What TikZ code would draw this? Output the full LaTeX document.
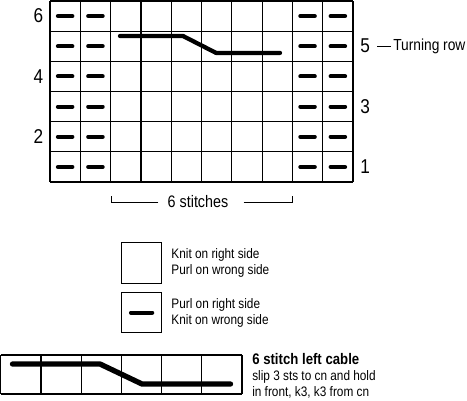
\documentclass[tikz,border=0pt]{standalone}
\usepackage{fontspec}
\setmainfont{Liberation Sans}[FakeStretch=0.86]
\usetikzlibrary{positioning}

\begin{document}
\begin{tikzpicture}[x=0.75pt,y=-0.75pt,
		chartline/.style={line width=0.9pt},
		purl/.style={line width=3pt,line cap=round},
		cable/.style={line width=3.2pt,line cap=round,line join=round},
		rownum/.style={font=\fontsize{15}{15}\selectfont,inner sep=0pt},
		keytext/.style={font=\fontsize{10.3}{12}\selectfont,align=left,anchor=west,inner sep=0pt}]
		\useasboundingbox (0,0) rectangle (467,400);
		
		% Chart grid, 10 stitches by 6 rows
		\begin{scope}[shift={(50,1)},x=22.725pt,y=-22.63pt]
		\foreach \i in {0,...,10} \draw[chartline] (\i,0) -- (\i,6);
		\foreach \j in {0,...,6}  \draw[chartline] (0,\j) -- (10,\j);
		% purl bars on the two edge columns
		\foreach \i in {0,1,8,9}
		\foreach \j in {0,...,5}
		\draw[purl] (\i+0.26,\j+0.5) -- (\i+0.74,\j+0.5);
		% Cable crossing in row 5
		\draw[cable] (2.31,1.16) -- (4.39,1.16) -- (5.48,1.72) -- (7.59,1.72);
		\end{scope}
		
		% Row numbers
		\node[rownum,anchor=east] (r6) at (43.5,16)  {6};
		\node[rownum,anchor=east] (r4) at (43.5,77)  {4};
		\node[rownum,anchor=east] (r2) at (43.5,137) {2};
		\node[rownum,anchor=west] (r5) at (360,46)  {5};
		\node[rownum,anchor=west] (r3) at (360,107) {3};
		\node[rownum,anchor=west] (r1) at (360,167) {1};
		
		\node[font=\fontsize{12}{12}\selectfont,anchor=west,inner sep=0pt] (turn) at (393,46) {Turning row};
		\draw[line width=0.6pt,shorten <=5.5pt,shorten >=1.5pt] (r5.east) -- (turn.west);
		
		% Bracket under the cable stitches
		\node[font=\fontsize{12.5}{12}\selectfont,inner sep=0pt] (stitches) at (198,202) {6 stitches};
		\coordinate (bl) at (111,202);
		\coordinate (br) at (292,202);
		\draw[line width=0.6pt,shorten <=6.75pt] (stitches.west) -- (bl) -- ++(0,-6);
		\draw[line width=0.6pt,shorten <=11.25pt] (stitches.east) -- (br) -- ++(0,-6);
		
		% Key
		\node[draw,chartline,minimum width=30pt,minimum height=30.75pt,inner sep=0pt,anchor=north west] (knit) at (121,242) {};
		\node[keytext,right=6.75pt of knit] (knittext) {Knit on right side\\Purl on wrong side};
		
		\node[draw,chartline,minimum width=30pt,minimum height=30pt,inner sep=0pt,anchor=north west] (purlbox) at (121,292) {};
		\draw[purl] ([xshift=-8pt]purlbox.center) -- ([xshift=8pt]purlbox.center);
		\node[keytext,right=6.75pt of purlbox] (purltext) {Purl on right side\\Knit on wrong side};
		
		% Cable symbol
		\begin{scope}[shift={(0.7,355)},x=30.15pt,y=-29.25pt]
		\foreach \i in {0,...,6} \draw[chartline] (\i,0) -- (\i,1);
		\draw[chartline] (0,0) -- (6,0);
		\draw[chartline] (0,1) -- (6,1);
		\end{scope}
		\draw[cable,line width=4pt] (12.5,364) -- (100,364) -- (142,384) -- (230.5,384);
		\node[keytext] (cabletext) at (252,376) {{\fontsize{11.5}{12}\selectfont\bfseries 6 stitch left cable}\\slip 3 sts to cn and hold\\in front, k3, k3 from cn};
		
\end{tikzpicture}
\end{document}
